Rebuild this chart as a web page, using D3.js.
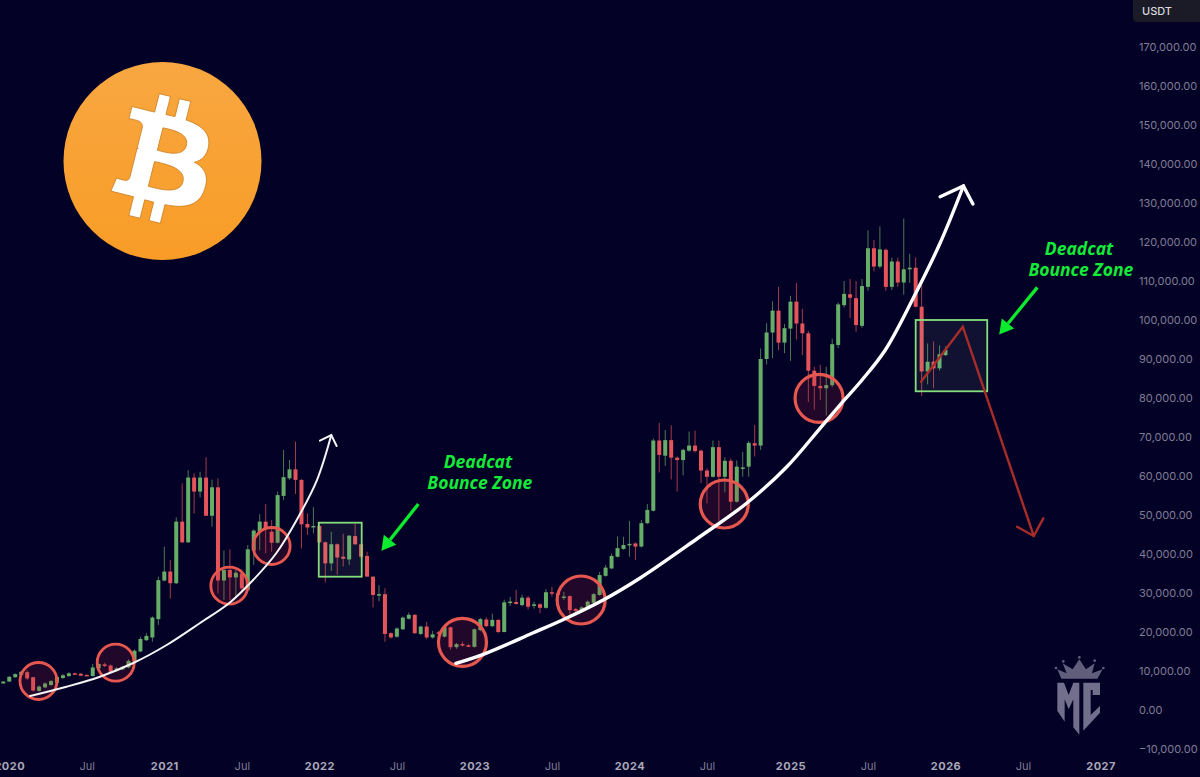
<!DOCTYPE html>
<html>
<head>
<meta charset="utf-8">
<style>
  html, body { margin: 0; padding: 0; background: #040126; overflow: hidden; }
  svg { display: block; }
  .axis text { font-family: Inter, Roboto, sans-serif; font-size: 11px; fill: #7f7d95; }
  .axis .domain { display: none; }
  .axis.x text.year { font-weight: 700; fill: #a9a8ba; letter-spacing: 0.5px; }
  .zone-label { font-family: "Open Sans", sans-serif; font-weight: 700; font-style: italic; font-size: 17.5px; fill: #14ea38; text-anchor: middle; }
</style>
</head>
<body>
<script src="https://d3js.org/d3.v7.min.js"></script>
<script>
// two-week BTCUSDT candles, prices in thousands of USDT
var opens = [
  6.8, 7.3, 8.4, 9.0, 9.7, 8.4, 4.9, 5.8, 6.4, 7.0,
  8.2, 8.7, 9.4, 9.3, 9.0, 8.7, 10.7, 11.7, 11.4, 10.1,
  10.4, 10.9, 12.6, 15.0, 17.9, 18.6, 23.3, 33.2, 35.5, 32.5,
  48.3, 43, 59.6, 56, 59.6, 49.8, 57.1, 33.2, 35.9, 34,
  35, 30.8, 40.9, 45.7, 48.3, 45.7, 42.9, 54.9, 59.4, 61.7,
  59, 47.7, 46.9, 47.2, 43, 37.6, 42.5, 39.3, 38.6, 44.6,
  42.5, 39.5, 34.2, 29.5, 29.7, 19.7, 18.8, 20.7, 23.4, 24.4,
  19.5, 21.4, 18.6, 19.9, 18.8, 21.2, 16.1, 16.9, 16.6, 16.2,
  20.5, 23.2, 21.5, 23.1, 20, 27.5, 27.7, 26.9, 28.8, 26.7,
  27.1, 26.2, 30.2, 29.9, 28.8, 29.2, 25.9, 25.4, 26.1, 27.5,
  29.5, 34.4, 36.3, 39.3, 41.3, 42.3, 42.7, 41.9, 47.9, 51.1,
  69.1, 65.2, 69.2, 64.7, 64.1, 66.5, 67.8, 66.5, 61.4, 59.8,
  67.4, 59.8, 63.9, 53.4, 61.9, 62.4, 68.4, 67.8, 90, 96.8,
  102.4, 94.2, 97.8, 104.7, 99.1, 96.6, 87, 83.1, 82.5, 83.3,
  93.6, 103.8, 106.6, 105.6, 98.5, 108.5, 118.4, 113.7, 118, 108.5,
  115, 109.6, 113, 113.4, 103.4, 86.8, 89.3, 87.6, 91
];
var closes = [
  7.3, 8.5, 9.2, 9.8, 8.1, 5.0, 6.0, 6.8, 7.4, 8.5,
  8.9, 9.4, 9.1, 8.8, 8.8, 10.9, 11.8, 11.3, 9.8, 10.7,
  11.1, 12.6, 15.2, 18.2, 19, 23.7, 33.3, 35.5, 32.5, 48.3,
  43, 59.6, 56, 59.6, 49.8, 57.1, 33.2, 35.9, 34, 35.2,
  31.2, 41.2, 46, 48.3, 46.6, 42.9, 55.1, 59.7, 61.7, 59,
  47.6, 46.8, 47.2, 43, 37.6, 42.5, 39.1, 38.8, 44.7, 42.5,
  39.3, 34.2, 29.5, 29.7, 19.5, 18.6, 20.9, 23.7, 24.4, 19.7,
  21.4, 18.6, 19.4, 19.7, 21.2, 16.1, 16.9, 16.5, 16.2, 20.7,
  23.3, 21.5, 23.1, 20, 27.6, 27.8, 27.2, 28.8, 26.5, 27.1,
  26.2, 30.2, 29.9, 29.5, 29.1, 25.6, 25.4, 26.3, 27.8, 29.7,
  34.6, 36.5, 39.5, 41.5, 42.3, 42.6, 41.9, 47.9, 51.3, 69.1,
  65.4, 69.2, 64.7, 64.1, 66.7, 67.8, 66.4, 61.4, 59.8, 67.4,
  59.8, 63.9, 53.4, 62.4, 62.2, 68.5, 67.8, 90, 96.8, 102.4,
  94.2, 97.9, 104.7, 99.1, 96.6, 87, 83.1, 82.5, 83.3, 93.8,
  104, 106.7, 105.7, 98.7, 108.7, 118.4, 113.7, 118.1, 108.5, 115,
  109.6, 113, 113.4, 103.4, 86.8, 89.3, 87.6, 91.2, 92.3
];
var highs = [
  7.3, 8.7, 9.4, 10, 10.2, 8.5, 6.3, 7.1, 7.7, 8.8,
  9.2, 9.7, 9.6, 9.5, 9.1, 11.8, 12, 12.1, 11.7, 11,
  11.3, 13, 15.5, 18.8, 19.7, 24, 34.2, 41.9, 38.5, 49.4,
  58.1, 61.5, 60.7, 61.1, 64.8, 59.1, 59.4, 40.9, 41.2, 35.9,
  36, 42.3, 46.3, 50.2, 52.8, 48.7, 56, 66.7, 64.1, 68.8,
  59.2, 50.4, 52, 47.9, 43.2, 45.7, 42.7, 45.2, 44.8, 47.7,
  42.7, 40.6, 34.2, 32, 31.2, 19.9, 21.2, 24, 25, 24.6,
  21.6, 22.6, 20.3, 20.3, 21.5, 21.4, 17.2, 17.5, 16.9, 20.9,
  23.6, 23.8, 24.7, 23.3, 28.3, 29, 30.8, 29.6, 29.2, 27.8,
  27.4, 31, 31.6, 30.5, 30.3, 29.4, 26.2, 26.6, 28.1, 30,
  35.4, 37.2, 40.1, 44.5, 44.4, 48.5, 43, 48.7, 52.8, 69.6,
  73.6, 71.8, 73, 65, 67, 71.4, 71.6, 66.8, 62, 69.1,
  69.1, 64.8, 64.5, 64, 66.2, 69, 73.1, 92.7, 99.2, 104.8,
  108.5, 99, 106.2, 109.5, 102.9, 97.2, 88, 88.5, 88, 95.2,
  104.5, 110, 110.5, 110, 110.5, 123, 120.5, 124, 118.3, 116,
  116, 126, 117, 116, 109, 94, 94.5, 93.5, 93.2
];
var lows = [
  6.8, 7.2, 8.3, 8.7, 7.7, 4.7, 4.7, 5.6, 6.2, 6.8,
  8, 8.5, 9, 8.7, 8.7, 8.6, 10.5, 11, 9.5, 9.9,
  10.2, 10.7, 12.4, 14.8, 17.7, 17.5, 21.8, 33, 28.6, 32.3,
  42.8, 42.8, 50.4, 54.5, 49.8, 47, 29.9, 28.2, 28.2, 29.1,
  30, 30.5, 37.2, 41, 40.2, 40.6, 42.7, 53.8, 59, 55.4,
  41.4, 44.9, 45.3, 42.7, 32.7, 35.7, 34.7, 36.8, 37.2, 42.3,
  39.1, 34.2, 26.3, 27.9, 17.5, 18.3, 18.5, 20.5, 23.2, 19.5,
  19.2, 18.1, 18.3, 19.4, 18.6, 15.5, 15.7, 16.3, 16.1, 16,
  20.2, 21.2, 21.2, 19.7, 19.9, 26.7, 27, 26.6, 25.8, 26,
  24.8, 26, 29.1, 29, 28.2, 24.3, 25.1, 25.1, 25.9, 27.3,
  29.3, 34.2, 36.1, 39.1, 41.1, 39.3, 38.5, 41.7, 47.7, 50.9,
  60.9, 62.6, 59.1, 56, 60.2, 66.2, 66, 58.2, 53, 59.6,
  48.5, 55.8, 51.2, 53.2, 59.8, 59.8, 65, 66.7, 88.6, 90.2,
  92.3, 91.5, 89.5, 95, 91, 79, 77, 79.5, 75.5, 82.8,
  92.8, 103.2, 100.5, 97, 98, 107.5, 112.5, 113.2, 107.5, 107.7,
  108.5, 106.5, 109.5, 103.2, 80.5, 83.5, 82.5, 87, 90.8
];

// axis ticks; x positions are candle numbers
var yTicks = [170000, 160000, 150000, 140000, 130000, 120000, 110000, 100000, 90000, 80000, 70000, 60000, 50000, 40000, 30000, 20000, 10000, 0, -10000];
var xTickBars = [1, 14, 27, 40, 53, 66, 79, 92, 105, 118, 132, 145, 158, 171, 184];
var xTickLabels = ["2020", "Jul", "2021", "Jul", "2022", "Jul", "2023", "Jul", "2024", "Jul", "2025", "Jul", "2026", "Jul", "2027"];

// annotations, in candle number / USDT
var circleBars = [5.9, 18.85, 37.9, 45, 77, 96.9, 120.9, 136.8];
var circlePrices = [7440, 12130, 31870, 42050, 17350, 28200, 52820, 79920];

var thinCurveBars = [4.5, 10.6, 16.2, 21.8, 27.4, 33, 37.9, 41.9, 45.8, 49.2, 52.6, 55];
var thinCurvePrices = [3590, 5970, 8540, 12050, 16670, 22310, 27440, 33330, 40260, 48720, 58970, 70510];
var thinHeadBars = [53.1, 55, 55.9];
var thinHeadPrices = [69050, 70510, 67690];

var thickCurveBars = [75.9, 80.5, 88.8, 94.5, 100.6, 106.8, 116.5, 124.7, 131.4, 137, 140.3, 144, 147.9, 152.6, 157.1, 161];
var thickCurvePrices = [11970, 14280, 19740, 23590, 28200, 33850, 44100, 53080, 62380, 72300, 78200, 84620, 92310, 105640, 119740, 134360];
var thickHeadBars = [157.1, 161, 162.6];
var thickHeadPrices = [131620, 134360, 129740];

var zoneBars = [[52.9, 60.1], [153, 165]];
var zonePrices = [[48030, 34180], [100000, 81720]];

var redPathBars = [153.9, 160.9, 172.8];
var redPathPrices = [84180, 98280, 44620];
var redHeadBars = [170, 172.8, 174.4];
var redHeadPrices = [47000, 44620, 49150];

var greenArrowBars = [[69.6, 63.4], [173.4, 167]];
var greenArrowPrices = [[52820, 40850], [108380, 96310]];

var labelBars = [[79.6, 79.9], [180.4, 180.7]];
var labelPrices = [[62050, 56670], [116670, 111280]];
var labelLines = ["Deadcat", "Bounce Zone"];

var width = 1200, height = 777;
var upColor = "#66ae68", downColor = "#e4545a";

var candles = opens.map(function(o, i) {
  return { bar: i, open: o * 1000, close: closes[i] * 1000, high: highs[i] * 1000, low: lows[i] * 1000 };
});

var x = d3.scaleLinear().domain([0, 158]).range([3.3, 945.5]);
var y = d3.scaleLinear().domain([-10000, 170000]).range([749, 47]);

var svg = d3.select("body").append("svg")
  .attr("width", width)
  .attr("height", height);

svg.append("rect").attr("width", width).attr("height", height).attr("fill", "#040126");

var defs = svg.append("defs");
var grad = defs.append("linearGradient").attr("id", "coin").attr("x1", 0).attr("x2", 0).attr("y1", 0).attr("y2", 1);
grad.append("stop").attr("offset", "0%").attr("stop-color", "#f8a741");
grad.append("stop").attr("offset", "100%").attr("stop-color", "#f89c26");

// bitcoin logo
var logo = svg.append("g").attr("transform", "translate(162.5,161)");
logo.append("circle").attr("r", 99).attr("fill", "url(#coin)");
logo.append("path")
  .attr("transform", "scale(3.2) translate(-31.7,-32.2)")
  .attr("fill", "#fff")
  .attr("stroke", "#c67c1e")
  .attr("stroke-width", 0.25)
  .attr("d", "M46.11 27.441c.636-4.258-2.606-6.547-7.039-8.074l1.438-5.768-3.512-.875-1.4 5.616c-.922-.23-1.87-.447-2.812-.662l1.41-5.653-3.509-.875-1.439 5.766c-.764-.174-1.514-.346-2.242-.527l.004-.018-4.842-1.209-.934 3.75s2.605.597 2.55.634c1.422.355 1.68 1.296 1.636 2.042l-1.638 6.571c.098.025.225.061.365.117l-.37-.092-2.297 9.205c-.174.432-.615 1.08-1.609.834.035.051-2.552-.637-2.552-.637l-1.743 4.02 4.57 1.139c.85.213 1.683.436 2.502.646l-1.453 5.835 3.507.875 1.44-5.772c.957.26 1.887.5 2.797.726L27.504 50.8l3.511.875 1.453-5.823c5.987 1.133 10.49.676 12.383-4.738 1.527-4.36-.075-6.875-3.225-8.516 2.294-.531 4.022-2.04 4.483-5.157zM38.087 38.69c-1.086 4.36-8.426 2.004-10.807 1.412l1.928-7.729c2.38.594 10.011 1.77 8.88 6.317zm1.085-11.312c-.99 3.966-7.1 1.951-9.083 1.457l1.748-7.01c1.983.494 8.367 1.416 7.335 5.553z");

// axes
var yAxis = d3.axisRight(y).tickValues(yTicks).tickSize(0).tickPadding(0).tickFormat(d3.format(",.2f"));
svg.append("g").attr("class", "axis y").attr("transform", "translate(1139,0)").call(yAxis);

var xAxis = d3.axisBottom(x).tickValues(xTickBars).tickSize(0).tickPadding(0)
  .tickFormat(function(d, i) { return xTickLabels[i]; });
svg.append("g").attr("class", "axis x").attr("transform", "translate(0,762)").call(xAxis)
  .selectAll("text")
  .attr("class", function(d, i) { return xTickLabels[i] === "Jul" ? "month" : "year"; });

var candle = svg.append("g").attr("class", "candles").selectAll("g")
  .data(candles)
  .enter().append("g");

candle.append("line")
  .attr("x1", function(d) { return x(d.bar); })
  .attr("x2", function(d) { return x(d.bar); })
  .attr("y1", function(d) { return y(d.high); })
  .attr("y2", function(d) { return y(d.low); })
  .attr("stroke", function(d) { return d.close >= d.open ? upColor : downColor; })
  .attr("stroke-opacity", 0.7)
  .attr("stroke-width", 1);

candle.append("rect")
  .attr("x", function(d) { return x(d.bar) - 2; })
  .attr("width", 4)
  .attr("y", function(d) { return y(Math.max(d.open, d.close)); })
  .attr("height", function(d) { return Math.max(1.5, Math.abs(y(d.open) - y(d.close))); })
  .attr("fill", function(d) { return d.close >= d.open ? upColor : downColor; });

// green zones
zoneBars.forEach(function(b, i) {
  svg.append("rect")
    .attr("x", x(b[0]))
    .attr("width", x(b[1]) - x(b[0]))
    .attr("y", y(zonePrices[i][0]))
    .attr("height", y(zonePrices[i][1]) - y(zonePrices[i][0]))
    .attr("fill", "#9fc7b0")
    .attr("fill-opacity", 0.09)
    .attr("stroke", "#86dd7c")
    .attr("stroke-width", 1.8);
});

// red circles
svg.append("g").selectAll("circle")
  .data(circleBars)
  .enter().append("circle")
  .attr("cx", function(d) { return x(d); })
  .attr("cy", function(d, i) { return y(circlePrices[i]); })
  .attr("r", function(d, i) { return i < 4 ? 18.5 : 24; })
  .attr("fill", "#b03040")
  .attr("fill-opacity", 0.17)
  .attr("stroke", "#e6584f")
  .attr("stroke-width", function(d, i) { return i < 4 ? 2.8 : 3.2; });

function polyline(bars, prices, color, w, curve) {
  var line = d3.line()
    .x(function(d) { return x(d); })
    .y(function(d, i) { return y(prices[i]); });
  if (curve) line.curve(d3.curveCatmullRom);
  svg.append("path")
    .attr("d", line(bars))
    .attr("fill", "none")
    .attr("stroke", color)
    .attr("stroke-width", w)
    .attr("stroke-linecap", "round")
    .attr("stroke-linejoin", "miter");
}

polyline(thinCurveBars, thinCurvePrices, "#f4f4f6", 2, true);
polyline(thinHeadBars, thinHeadPrices, "#f4f4f6", 2, false);
polyline(thickCurveBars, thickCurvePrices, "#ffffff", 3.4, true);
polyline(thickHeadBars, thickHeadPrices, "#ffffff", 3.4, false);

polyline(redPathBars, redPathPrices, "#a82d28", 2.4, false);
polyline(redHeadBars, redHeadPrices, "#a82d28", 2.4, false);

// green arrows, tail to tip
greenArrowBars.forEach(function(b, i) {
  var p = greenArrowPrices[i];
  var x0 = x(b[0]), y0 = y(p[0]), x1 = x(b[1]), y1 = y(p[1]);
  var a = Math.atan2(y1 - y0, x1 - x0), len = 14, half = 8;
  var bx = x1 - len * Math.cos(a), by = y1 - len * Math.sin(a);
  svg.append("line")
    .attr("x1", x0).attr("y1", y0).attr("x2", bx).attr("y2", by)
    .attr("stroke", "#0ceb2e").attr("stroke-width", 3.4);
  svg.append("polygon")
    .attr("points", [
      [x1, y1],
      [bx - half * Math.sin(a), by + half * Math.cos(a)],
      [bx + half * Math.sin(a), by - half * Math.cos(a)]
    ].join(" "))
    .attr("fill", "#0ceb2e");
});

// each label is one text element with a tspan per line
labelBars.forEach(function(b, i) {
  var label = svg.append("text").attr("class", "zone-label");
  labelLines.forEach(function(t, j) {
    label.append("tspan")
      .attr("x", x(b[j]))
      .attr("y", y(labelPrices[i][j]))
      .text(t);
  });
});

// currency tag top right
svg.append("rect").attr("x", 1133).attr("y", -4).attr("width", 72).attr("height", 26).attr("rx", 4).attr("fill", "#1b1b27");
svg.append("text").attr("x", 1142).attr("y", 15)
  .attr("font-family", "Inter, Roboto, sans-serif").attr("font-size", 11).attr("font-weight", 500)
  .attr("fill", "#d8d8de").text("USDT");

// MC watermark
var mark = svg.append("g").attr("transform", "translate(1020,640) scale(0.3333)").attr("fill", "#726f8c");
mark.append("path").attr("d", "M112 88 L140 100 L128 70 L158 88 L178 58 L198 88 L224 70 L216 100 L248 88 L232 116 L124 116 Z").attr("fill", "#615e7c");
[[108, 84], [130, 64], [178, 52], [224, 62], [250, 84]].forEach(function(p) {
  mark.append("circle").attr("cx", p[0]).attr("cy", p[1]).attr("r", 4).attr("fill", "#615e7c");
});
mark.append("path").attr("d", "M112 128 H132 L146 165 L160 128 H178 V284 L160 262 V178 L146 208 L134 178 V245 L112 212 Z");
mark.append("path").attr("d", "M190 128 H240 V165 H218 V150 H212 V225 L240 198 V218 L190 272 Z");
</script>
</body>
</html>
